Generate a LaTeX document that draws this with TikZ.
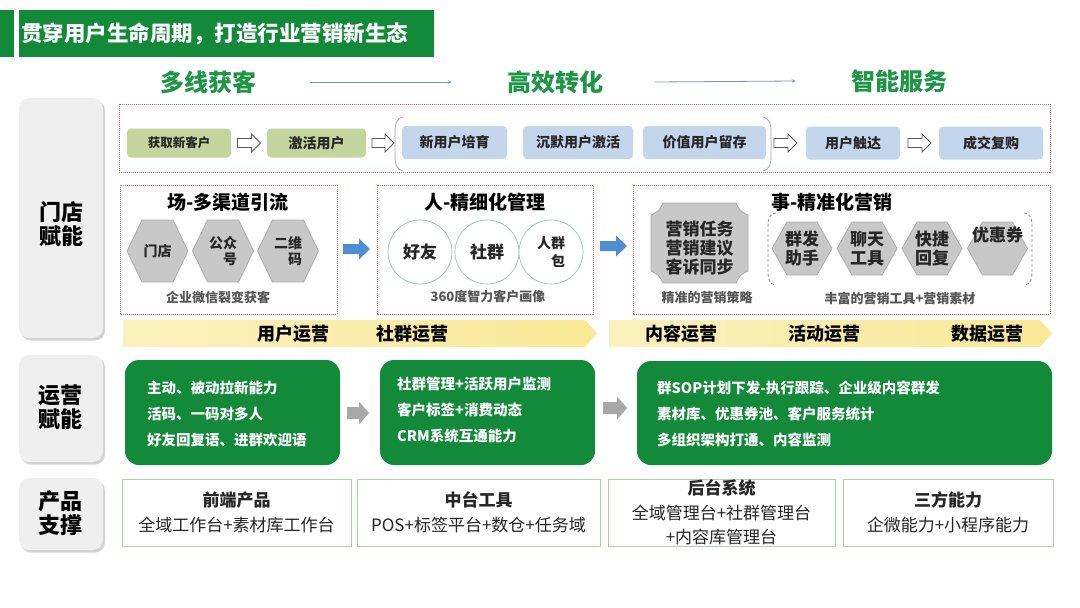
\documentclass[tikz,border=0pt]{standalone}
\usepackage{fontspec}
\setmainfont{Noto Sans CJK SC}
\usetikzlibrary{shadows,calc,arrows.meta}
\definecolor{tgreen}{RGB}{19,138,58}
\definecolor{hgreen}{RGB}{30,150,70}
\definecolor{oliveb}{RGB}{196,214,158}
\definecolor{lblue}{RGB}{196,214,236}
\definecolor{txtdark}{RGB}{38,38,38}
\definecolor{hexgray}{RGB}{200,200,200}
\definecolor{hexborder}{RGB}{172,172,172}
\definecolor{circborder}{RGB}{160,195,185}
\definecolor{arrblue}{RGB}{78,141,211}
\definecolor{arrgray}{RGB}{168,168,168}
\definecolor{reddot}{RGB}{222,100,100}
\definecolor{bandl}{RGB}{251,241,190}
\definecolor{bandr}{RGB}{249,233,150}
\definecolor{pborder}{RGB}{165,215,165}
\definecolor{panelfill}{RGB}{239,239,239}
\definecolor{toparrow}{RGB}{120,150,190}
\definecolor{subgray}{RGB}{85,85,85}
\newcommand{\fsz}[2]{\fontsize{#1}{#2}\selectfont}
\newcommand{\hexa}[8][]{%
  \filldraw[hexstyle] (#3-#5,#4) -- (#3-#5+#7,#4-#6) -- (#3+#5-#7,#4-#6) -- (#3+#5,#4) -- (#3+#5-#7,#4+#6) -- (#3-#5+#7,#4+#6) -- cycle;
  \node[hextxt,#1] (#2) at (#3,#4) {#8};}
% block arrow: style, name, cx, cy, length, head width, body width, head length
\newcommand{\blockarrow}[8][]{%
  \coordinate (#2) at (#3,#4);
  \path[#1] (#3-#5/2,#4-#7/2) -- (#3+#5/2-#8,#4-#7/2) -- (#3+#5/2-#8,#4-#6/2) -- (#3+#5/2,#4) -- (#3+#5/2-#8,#4+#6/2) -- (#3+#5/2-#8,#4+#7/2) -- (#3-#5/2,#4+#7/2) -- cycle;}
\tikzset{
  titletxt/.style={font=\fsz{21.5}{26}\bfseries, text=white, inner sep=0},
  phasetxt/.style={font=\fsz{24}{28}\bfseries, text=hgreen, inner sep=0},
  phasearrow/.style={draw=toparrow, line width=0.8, -{Stealth[length=4pt,width=3.5pt]}},
  paneltxt/.style={font=\fsz{22}{24.5}\bfseries, text=black, align=center, inner sep=0},
  panelbox/.style={fill=panelfill, rounded corners=10, drop shadow={shadow xshift=2pt,shadow yshift=-2.5pt,opacity=.35}},
  reddotted/.style={draw=reddot, line width=0.7, dash pattern=on 1pt off 1pt},
  flowbox/.style={font=\fsz{14}{16}\bfseries, text=txtdark, rounded corners=4, inner sep=0},
  olivebox/.style={flowbox, fill=oliveb, minimum height=29},
  bluebox/.style={flowbox, fill=lblue, minimum height=33},
  openarr/.style={draw=black!65, fill=white, line width=0.8, line join=miter},
  bluearr/.style={fill=arrblue},
  grayarr/.style={fill=arrgray},
  bracketline/.style={draw=black!35, line width=0.8},
  bracketdash/.style={draw=black!45, line width=0.8, dash pattern=on 3pt off 2pt},
  boxtitle/.style={font=\fsz{19}{22}\bfseries, text=black, inner sep=0},
  hexstyle/.style={fill=hexgray, draw=hexborder, line width=0.8},
  hextxt/.style={font=\fsz{14}{16}\bfseries, text=txtdark, align=center, inner sep=0},
  bighex/.style={font=\fsz{17}{19}\bfseries, text=txtdark},
  circ/.style={circle, draw=circborder, line width=0.7, fill=white, minimum size=64, inner sep=0, font=\fsz{17}{19}\bfseries, text=txtdark, align=center},
  subtxt/.style={font=\fsz{13}{15}\bfseries, text=subgray, inner sep=0},
  bandtxt/.style={font=\fsz{18}{21}\bfseries, text=black, inner sep=0},
  gbox/.style={fill=tgreen, rounded corners=14},
  gtxt/.style={font=\fsz{14.5}{26}\bfseries, text=white, align=left, inner sep=0},
  pbox/.style={draw=pborder, line width=1, fill=white, minimum height=67, inner sep=0, align=center, font=\fsz{17}{25}, text=txtdark},
}
\begin{document}
\begin{tikzpicture}[x=1pt,y=-1pt]
\useasboundingbox (0,0) rectangle (1080,608);
\fill[white] (0,0) rectangle (1080,608);

% title bar
\fill[tgreen] (0,10) rectangle (14,57);
\fill[tgreen] (19,10) rectangle (434,57);
\node[titletxt, anchor=west] (title) at (21,33.5) {贯穿用户生命周期，打造行业营销新生态};

% phase headings
\node[phasetxt] (h1) at (208,82) {多线获客};
\node[phasetxt] (h2) at (555,82) {高效转化};
\node[phasetxt] (h3) at (899,81) {智能服务};
\draw[phasearrow] ([xshift=54]h1.east) -- ([xshift=-55]h2.west);
\draw[phasearrow] ([xshift=52]h2.east) -- ([xshift=-55]h3.west);

% left panels
\path[panelbox] (19,98) rectangle (103,338);
\path[panelbox] (19,355) rectangle (103,462);
\path[panelbox] (19,478) rectangle (103,550);
\node[paneltxt] (l1) at (61,224) {门店\\赋能};
\node[paneltxt] (l2) at (60,407) {运营\\赋能};
\node[paneltxt] (l3) at (60,513) {产品\\支撑};

% top flow row
\draw[reddotted] (119,104) rectangle (1050,172);
\node[olivebox, minimum width=104, font=\fsz{12.5}{15}\bfseries] (f1) at (179,143) {获取新客户};
\node[olivebox, minimum width=99] (f2) at (316.5,143) {激活用户};
\node[bluebox, minimum width=105] (f3) at (454.5,142.5) {新用户培育};
\node[bluebox, minimum width=110] (f4) at (578,142.5) {沉默用户激活};
\node[bluebox, minimum width=123] (f5) at (704.5,142.5) {价值用户留存};
\node[bluebox, minimum width=94] (f6) at (853,143) {用户触达};
\node[bluebox, minimum width=104] (f7) at (991,143) {成交复购};
\blockarrow[openarr]{oa1}{249}{143}{23}{18}{9}{9}
\blockarrow[openarr]{oa2}{383}{143}{22}{18}{9}{9}
\blockarrow[openarr]{oa3}{785.5}{143}{23}{18}{9}{9}
\blockarrow[openarr]{oa4}{919.5}{143}{23}{18}{9}{9}
\draw[bracketline] (403,117) .. controls (396,119) and (395,124) .. (395,132) -- (395,156) .. controls (395,164) and (396,169) .. (403,171);
\draw[bracketline] (763,117) .. controls (770,119) and (771,124) .. (771,132) -- (771,156) .. controls (771,164) and (770,169) .. (763,171);

% second row boxes
\draw[reddotted] (120,185) rectangle (337,314);
\draw[reddotted] (377,185) rectangle (593,314);
\draw[reddotted] (633,185) rectangle (1050,314);
\node[boxtitle] (t1) at (228,202) {场-多渠道引流};
\node[boxtitle] (t2) at (485,202) {人-精细化管理};
\node[boxtitle] (t3) at (832,202) {事-精准化营销};

% box 1 hexagons
\hexa{hx1}{157.5}{251}{30.5}{31}{15}{门店}
\hexa[align=right]{hx2}{223}{251}{30.5}{31}{15}{公众\\号}
\hexa[align=right]{hx3}{288}{251}{30.5}{31}{15}{二维\\码}
\node[subtxt] (s1) at (218,297) {企业微信裂变获客};
\blockarrow[bluearr]{ba1}{356.5}{249}{27}{21}{10}{11}

% box 2 circles
\node[circ] (c1) at (420,252) {好友};
\node[circ] (c2) at (487,252) {社群};
\node[circ, align=right, font=\fsz{14}{18}\bfseries] (c3) at (551,252) {人群\\包};
\node[subtxt] (s2) at (488,297) {360度智力客户画像};
\blockarrow[bluearr]{ba2}{613.5}{246}{27}{21}{10}{11}

% box 3
\filldraw[hexstyle] (663,203) -- (736,203) .. controls (740,211) .. (748,215) -- (748,271) .. controls (740,275) .. (736,283) -- (663,283) .. controls (659,275) .. (651,271) -- (651,215) .. controls (659,211) .. (663,203) -- cycle;
\node[hextxt, bighex] (plq) at (699.5,248) {营销任务\\营销建议\\客诉同步};
\node[subtxt] (s3) at (707,298) {精准的营销策略};
\draw[bracketdash] (776,213) .. controls (769,214) and (768,219) .. (768,226) -- (768,272) .. controls (768,279) and (769,284) .. (776,285);
\draw[bracketdash] (1024,213) .. controls (1031,214) and (1032,219) .. (1032,226) -- (1032,272) .. controls (1032,279) and (1031,284) .. (1024,285);
\hexa[bighex]{hy1}{802}{248.5}{30}{26.5}{15}{群发\\助手}
\hexa[bighex]{hy2}{867}{248.5}{30}{26.5}{15}{聊天\\工具}
\hexa[bighex]{hy3}{932}{248.5}{30}{26.5}{15}{快捷\\回复}
\hexa[bighex, yshift=13]{hy4}{997.5}{248.5}{30}{26.5}{15}{优惠券}
\node[subtxt] (s4) at (900,298) {丰富的营销工具+营销素材};

% yellow bands
\shade[left color=bandl, right color=bandr] (123,320) -- (585,320) -- (597,333.5) -- (585,347) -- (123,347) -- cycle;
\shade[left color=bandl, right color=bandr] (609,320) -- (1040,320) -- (1052,333.5) -- (1040,347) -- (609,347) -- cycle;
\node[bandtxt] (b1) at (293,333.5) {用户运营};
\node[bandtxt] (b2) at (412,333.5) {社群运营};
\node[bandtxt] (b3) at (681,333.5) {内容运营};
\node[bandtxt] (b4) at (824,333.5) {活动运营};
\node[bandtxt] (b5) at (987,333.5) {数据运营};

% green boxes
\fill[gbox] (125,360) rectangle (340,465);
\fill[gbox] (380,360) rectangle (595,465);
\fill[gbox] (637,361) rectangle (1052,465);
\node[gtxt, anchor=west] (g1) at (147,414) {主动、被动拉新能力\\活码、一码对多人\\好友回复语、进群欢迎语};
\node[gtxt, anchor=west] (g2) at (397,410) {社群管理+活跃用户监测\\客户标签+消费动态\\CRM系统互通能力};
\node[gtxt, anchor=west] (g3) at (657,413.5) {群SOP计划下发-执行跟踪、企业级内容群发\\素材库、优惠券池、客户服务统计\\多组织架构打通、内容监测};
\blockarrow[grayarr]{ga1}{358}{413}{22}{23}{12}{10}
\blockarrow[grayarr]{ga2}{615}{408}{24}{23}{12}{10}

% product row
\node[pbox, minimum width=229] (p1) at (236.5,512.5) {\textbf{前端产品}\\全域工作台+素材库工作台};
\node[pbox, minimum width=243] (p2) at (478.5,512.5) {\textbf{中台工具}\\POS+标签平台+数仓+任务域};
\node[pbox, minimum width=227, font=\fsz{17}{24.5}] (p3) at (721.5,512.5) {\textbf{后台系统}\\全域管理台+社群管理台\\+内容库管理台};
\node[pbox, minimum width=210] (p4) at (948,512.5) {\textbf{三方能力}\\企微能力+小程序能力};
\end{tikzpicture}
\end{document}
